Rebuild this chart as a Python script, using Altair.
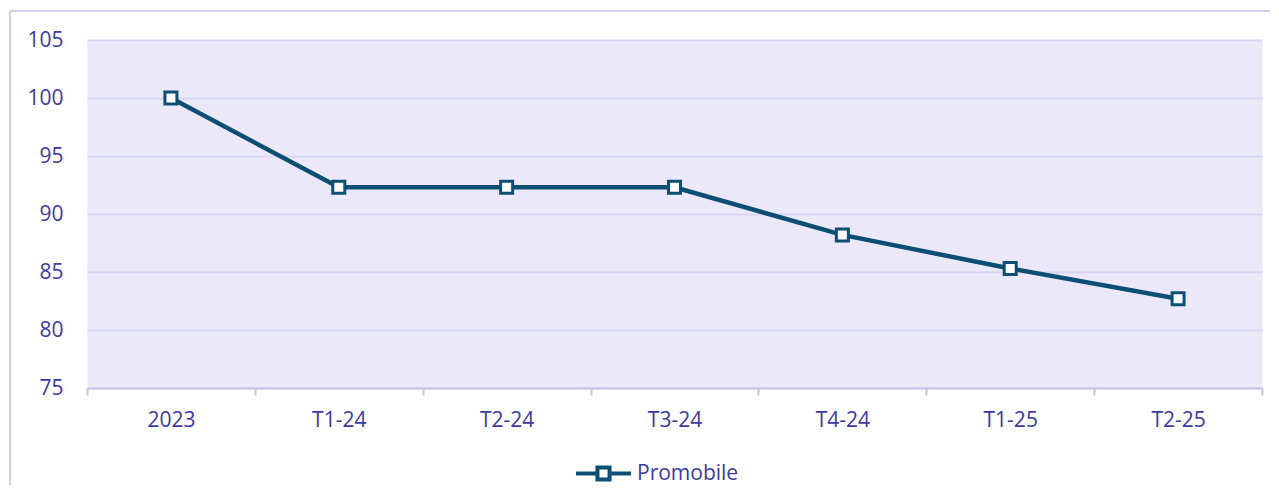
import altair as alt
import pandas as pd

# ---- data ----
periods = ["2023", "T1-24", "T2-24", "T3-24", "T4-24", "T1-25", "T2-25"]
values = [100.0, 92.3, 92.3, 92.3, 88.2, 85.3, 82.7]
series_name = "Promobile"
y_ticks = [75, 80, 85, 90, 95, 100, 105]

df = pd.DataFrame({
    "period": periods,
    "value": values,
    "series": [series_name] * len(periods),
})

LINE = "#0d4f74"
TEXT = "#3b3ba3"
GRID = "#d8d5f2"
AXIS = "#c7c3eb"
FRAME = "#d2cef1"
BG = "#ebe9f9"
FONT = "Open Sans"

W, H = 1175, 348

x_enc = alt.X(
    "period:N", sort=periods, title=None, bandPosition=0.5,
    scale=alt.Scale(type="band", paddingInner=0, paddingOuter=0),
    axis=alt.Axis(tickBand="extent", grid=False, domainColor=AXIS, domainWidth=2,
                  tickColor=AXIS, tickWidth=2, tickSize=7, labelPadding=14,
                  labelAngle=0, labelFontSize=21, labelColor=TEXT, labelFont=FONT),
)
y_enc = alt.Y(
    "value:Q", title=None,
    scale=alt.Scale(domain=[75, 105], nice=False, zero=False),
    axis=alt.Axis(values=y_ticks, grid=True, gridColor=GRID, gridWidth=2,
                  domain=False, ticks=False, labelPadding=24,
                  labelFontSize=21, labelColor=TEXT, labelFont=FONT),
)

legend_symbol = "M-1,0L-0.22,0M0.22,0L1,0M-0.22,-0.22L0.22,-0.22L0.22,0.22L-0.22,0.22Z"

line = alt.Chart(df).mark_line(strokeWidth=4.5).encode(
    x=x_enc, y=y_enc,
    color=alt.Color(
        "series:N", scale=alt.Scale(range=[LINE]),
        legend=alt.Legend(orient="none", legendX=487, legendY=404, title=None,
                          direction="horizontal", symbolType=legend_symbol,
                          symbolSize=3025, symbolStrokeWidth=4,
                          symbolFillColor="white", symbolStrokeColor=LINE,
                          labelFontSize=21, labelColor=TEXT, labelFont=FONT,
                          labelOffset=4, padding=0),
    ),
)

points = alt.Chart(df).mark_point(
    shape="square", filled=True, fill="white", stroke=LINE, strokeWidth=3,
    size=144, opacity=1,
).encode(x=x_enc, y=y_enc)

frame_src = alt.Data(values=[{}])
frame_top = alt.Chart(frame_src).mark_rule(color=FRAME, strokeWidth=2).encode(
    x=alt.value(-77), x2=alt.value(1183), y=alt.value(-29)
)
frame_left = alt.Chart(frame_src).mark_rule(color=FRAME, strokeWidth=2).encode(
    x=alt.value(-77), y=alt.value(-29), y2=alt.value(445)
)

chart = alt.layer(frame_top, frame_left, line, points).properties(
    width=W, height=H,
    padding={"left": 1, "top": 2, "right": 0, "bottom": 0},
).configure_view(fill=BG, stroke="transparent")

chart.save("out.html", embed_options={"renderer": "svg", "actions": False})
